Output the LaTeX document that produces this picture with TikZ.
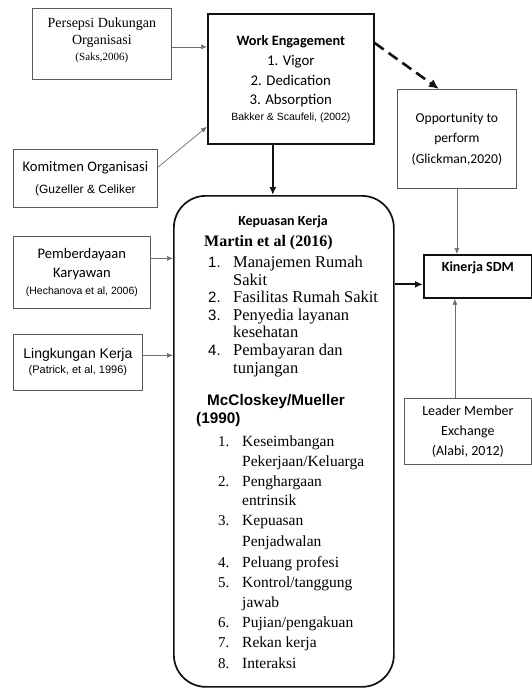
\documentclass[tikz,border=0pt]{standalone}
\usepackage{fontspec}
\setmainfont{Liberation Serif}
\setsansfont{Liberation Sans}
\newfontfamily\calfont{Carlito}
\usetikzlibrary{arrows.meta, positioning, calc}
\definecolor{cThin}{HTML}{5A5A5A}
\definecolor{cArrowThin}{HTML}{6E6E6E}
\definecolor{cBold}{HTML}{111111}

\begin{document}
\begin{tikzpicture}[
    x=1pt, y=-1pt,
    % Box styles
    thinbox/.style={rectangle, draw=cThin, line width=0.8pt, anchor=north west, inner sep=0pt, align=center},
    boldbox/.style={rectangle, draw=cBold, line width=1.7pt, anchor=north west, inner sep=0pt, align=center},
    % Text styles inside Kepuasan Kerja
    numA/.style={anchor=base west, inner sep=0pt, font=\sffamily\fontsize{15}{17}\selectfont},
    itemA/.style={anchor=base west, inner sep=0pt, font=\rmfamily\fontsize{16.5}{18}\selectfont},
    numB/.style={anchor=base west, inner sep=0pt, font=\rmfamily\fontsize{15}{17}\selectfont},
    itemB/.style={anchor=base west, inner sep=0pt, font=\rmfamily\fontsize{15.5}{18}\selectfont},
    % Arrow styles
    thin_arrow/.style={-{Latex[length=6pt,width=5pt]}, line width=0.7pt, draw=cArrowThin},
    thick_arrow/.style={-{Latex[length=8pt,width=7pt]}, line width=2pt, draw=cBold},
    dash_arrow/.style={-{Latex[length=10pt,width=9pt]}, line width=2.6pt, draw=cBold, dash pattern=on 11pt off 6pt}
]
\useasboundingbox (0,0) rectangle (532,688);

% --- LEFT COLUMN ---
\node[thinbox, minimum width=139, minimum height=71, font=\rmfamily\fontsize{14}{17}\selectfont] (persepsi) at (32,8)
    {Persepsi Dukungan\\Organisasi\\[-1pt]{\fontsize{11}{13}\selectfont(Saks,2006)}\\[-8pt]};
\node[thinbox, minimum width=144, minimum height=58, font=\calfont\fontsize{14.6}{17}\selectfont] (komitmen) at (13,149)
    {Komitmen Organisasi\\[5pt]{\sffamily\fontsize{12}{14}\selectfont(Guzeller \& Celiker}};
\node[thinbox, minimum width=137, minimum height=72, font=\calfont\fontsize{14.6}{19}\selectfont] (pemberdayaan) at (13,236)
    {Pemberdayaan\\Karyawan\\[-2pt]{\sffamily\fontsize{10.5}{13}\selectfont(Hechanova et al, 2006)}};
\node[thinbox, minimum width=129, minimum height=56, font=\sffamily\fontsize{14}{17}\selectfont] (lingkungan) at (13,334)
    {Lingkungan Kerja\\[-2pt]{\fontsize{11}{13}\selectfont(Patrick, et al, 1996)}};

% --- WORK ENGAGEMENT ---
\node[boldbox, minimum width=166, minimum height=130, font=\calfont\fontsize{14.8}{19.5}\selectfont] (engage) at (207,13)
    {{\bfseries\fontsize{14.3}{15}\selectfont Work Engagement}\\[1pt]1. Vigor\\2. Dedication\\3. Absorption\\[-4pt]{\sffamily\fontsize{10.5}{13}\selectfont Bakker \& Scaufeli, (2002)}};

% --- RIGHT COLUMN ---
\node[thinbox, minimum width=119, minimum height=99, font=\calfont\fontsize{13.6}{20.5}\selectfont] (opportunity) at (397,89)
    {Opportunity to\\perform\\(Glickman,2020)};
\node[boldbox, minimum width=108, minimum height=43, text height=17pt, text depth=26pt, font=\calfont\bfseries\fontsize{14}{15}\selectfont] (kinerja) at (423,254)
    {Kinerja SDM};
\node[thinbox, minimum width=127, minimum height=66, font=\calfont\fontsize{14}{20}\selectfont] (lmx) at (404,398)
    {Leader Member\\Exchange\\(Alabi, 2012)};

% --- KEPUASAN KERJA ---
\node[boldbox, rounded corners=32pt, minimum width=220, minimum height=491] (kepuasan) at (173,195) {};
\node[font=\calfont\bfseries\fontsize{14}{15}\selectfont, inner sep=0pt] (kk_title) at (283,222) {Kepuasan Kerja};
\node[anchor=base west, inner sep=0pt, font=\rmfamily\bfseries\fontsize{16}{18}\selectfont] (martin) at (204,246) {Martin et al (2016)};
\foreach \y/\n/\t in {267/1./Manajemen Rumah, 285//Sakit, 302/2./Fasilitas Rumah Sakit, 320/3./Penyedia layanan, 337//kesehatan, 355/4./Pembayaran dan, 373//tunjangan} {
    \node[numA] (na\y) at (208,\y) {\n};
    \node[itemA] (ta\y) at (233,\y) {\t};
}
\node[anchor=base west, inner sep=0pt, font=\sffamily\bfseries\fontsize{15.3}{17}\selectfont] (mccloskey) at (207,405) {McCloskey/Mueller};
\node[anchor=base west, inner sep=0pt, font=\sffamily\bfseries\fontsize{15.3}{17}\selectfont] (mc_year) at (196,423) {(1990)};
\foreach \y/\n/\t in {446/1./Keseimbangan, 466//{Pekerjaan/Keluarga}, 486/2./Penghargaan, 505//entrinsik, 525/3./Kepuasan, 546//Penjadwalan, 567/4./Peluang profesi, 587/5./{Kontrol/tanggung}, 607//jawab, 627/6./{Pujian/pengakuan}, 647/7./Rekan kerja, 668/8./Interaksi} {
    \node[numB] (nb\y) at (218,\y) {\n};
    \node[itemB] (tb\y) at (242,\y) {\t};
}

% --- ARROWS ---
\draw[thin_arrow] ([yshift=-3pt]persepsi.east) -- ([yshift=-3pt]engage.west |- persepsi.east);
\draw[thin_arrow] ([yshift=11pt]komitmen.east) -- ([yshift=18pt]engage.south west);
\draw[dash_arrow] ([yshift=-30pt]engage.north east) -- ([xshift=-18pt]opportunity.north);
\draw[thick_arrow] ([xshift=-18pt]engage.south) -- ([xshift=-18pt]engage.south |- kepuasan.north);
\draw[thin_arrow] ([yshift=14pt]pemberdayaan.east) -- ([yshift=14pt]kepuasan.west |- pemberdayaan.east);
\draw[thin_arrow] ([yshift=7pt]lingkungan.east) -- ([yshift=7pt]kepuasan.west |- lingkungan.east);
\draw[thick_arrow] ([yshift=-8pt]kepuasan.east |- kinerja.west) -- ([yshift=-8pt]kinerja.west);
\draw[thin_arrow] (opportunity.south) -- (opportunity.south |- kinerja.north);
\draw[thin_arrow] ([xshift=-13pt]lmx.north) -- ([xshift=-13pt]lmx.north |- kinerja.south);

\end{tikzpicture}
\end{document}
